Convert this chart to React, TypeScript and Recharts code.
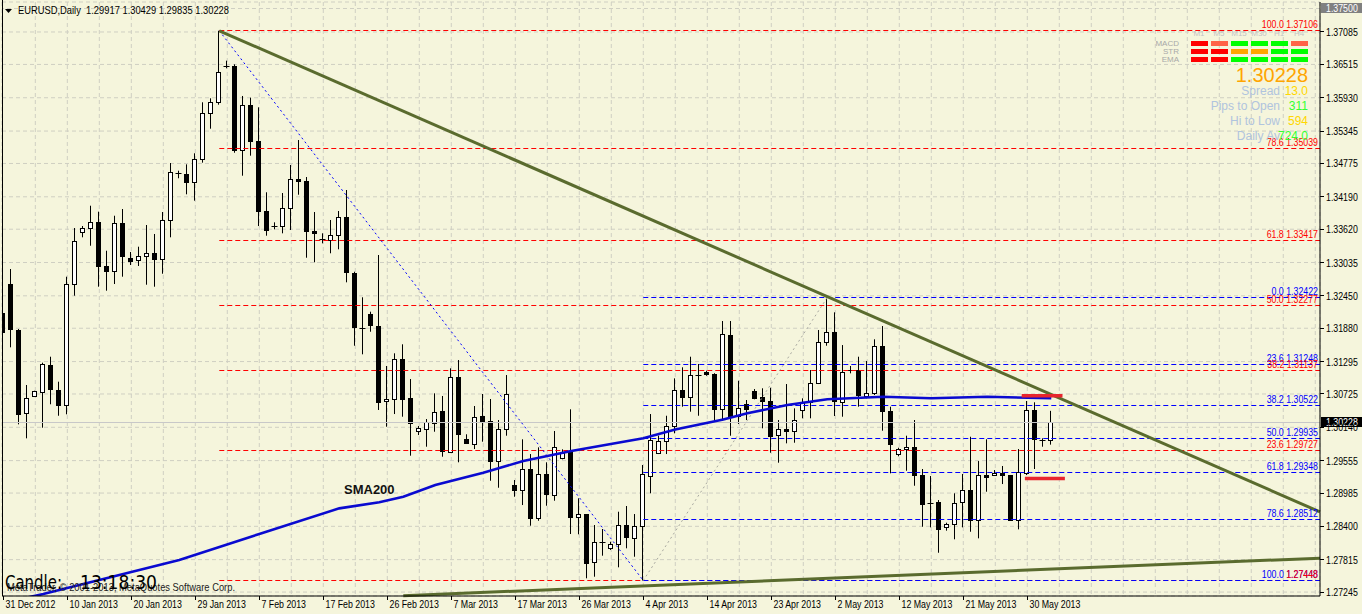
import React from 'react';
import {
  ComposedChart, Bar, Line, XAxis, YAxis, CartesianGrid, ReferenceLine, ReferenceDot,
} from 'recharts';

// EURUSD daily bars, bar 0 = 31 Dec 2012
const opens = [
  1.32153, 1.32657, 1.31849, 1.30386, 1.3069, 1.30755, 1.31234, 1.30795, 1.30526, 1.32652,
  1.33566, 1.33636, 1.33741, 1.32974, 1.3288, 1.33724, 1.33114, 1.33079, 1.33144, 1.33197,
  1.33091, 1.33777, 1.34602, 1.34585, 1.34444, 1.34848, 1.35657, 1.3585, 1.36488, 1.36488,
  1.35007, 1.35797, 1.35165, 1.33935, 1.33664, 1.33664, 1.33987, 1.34497, 1.34462, 1.33589,
  1.33443, 1.33418, 1.33506, 1.33829, 1.32845, 1.3189, 1.32125, 1.31919, 1.30589, 1.30632,
  1.3134, 1.30654, 1.30062, 1.30104, 1.30227, 1.30421, 1.29711, 1.31023, 1.29934, 1.29858,
  1.30338, 1.30244, 1.29535, 1.30104, 1.29121, 1.29033, 1.29402, 1.28541, 1.29314, 1.28962,
  1.29612, 1.29711, 1.28557, 1.28611, 1.27768, 1.28119, 1.28014, 1.28083, 1.28418, 1.28189,
  1.28393, 1.29289, 1.29693, 1.29899, 1.30162, 1.30795, 1.30667, 1.31064, 1.31111, 1.31076,
  1.30456, 1.31762, 1.30338, 1.30549, 1.30777, 1.30667, 1.30602, 1.29999, 1.30104, 1.30075,
  1.30444, 1.30579, 1.30913, 1.31633, 1.31809, 1.30589, 1.31134, 1.31139, 1.3069, 1.30748,
  1.31568, 1.30431, 1.29665, 1.29753, 1.29788, 1.29301, 1.28805, 1.28822, 1.28382, 1.28435,
  1.28815, 1.29033, 1.28511, 1.29301, 1.29301, 1.29342, 1.29301, 1.28511, 1.29342, 1.30444,
  1.29905, 1.29917,
];
const highs = [
  1.32318, 1.32921, 1.31867, 1.30883, 1.30782, 1.31275, 1.3138, 1.30941, 1.32786, 1.33641,
  1.33676, 1.34033, 1.33928, 1.33242, 1.33857, 1.33975, 1.3322, 1.33313, 1.33694, 1.33536,
  1.33922, 1.34783, 1.34648, 1.3476, 1.34954, 1.3585, 1.3592, 1.37106, 1.36581, 1.36517,
  1.35961, 1.35931, 1.35762, 1.34269, 1.33741, 1.34256, 1.34748, 1.35187, 1.34537, 1.33922,
  1.33548, 1.33782, 1.3394, 1.34309, 1.32873, 1.32424, 1.32171, 1.33167, 1.31217, 1.3144,
  1.31598, 1.30988, 1.30162, 1.30285, 1.30737, 1.3069, 1.31176, 1.31322, 1.30017, 1.30514,
  1.30725, 1.30637, 1.30268, 1.31058, 1.29214, 1.29929, 1.2967, 1.29788, 1.29525, 1.30075,
  1.29753, 1.30456, 1.28892, 1.28616, 1.28423, 1.28353, 1.28129, 1.28657, 1.28757, 1.28616,
  1.29477, 1.30373, 1.29992, 1.30343, 1.31, 1.31194, 1.3138, 1.31252, 1.31135, 1.3109,
  1.32007, 1.32007, 1.30958, 1.30619, 1.30812, 1.30825, 1.30835, 1.30268, 1.309, 1.30473,
  1.30649, 1.31146, 1.31849, 1.32422, 1.3216, 1.31585, 1.31217, 1.3138, 1.31305, 1.31686,
  1.31919, 1.30502, 1.29781, 1.29992, 1.30268, 1.29407, 1.29284, 1.28862, 1.28464, 1.2898,
  1.29319, 1.29974, 1.29547, 1.29929, 1.29389, 1.2946, 1.29301, 1.29758, 1.30602, 1.30579,
  1.29946, 1.30429,
];
const lows = [
  1.31703, 1.31545, 1.30192, 1.29946, 1.30678, 1.30133, 1.30544, 1.30343, 1.30368, 1.32452,
  1.33478, 1.3333, 1.3261, 1.3254, 1.32657, 1.32786, 1.32991, 1.32974, 1.32645, 1.3261,
  1.32838, 1.33478, 1.34515, 1.34233, 1.34121, 1.34789, 1.35386, 1.35808, 1.36447, 1.34964,
  1.3456, 1.34912, 1.33676, 1.33506, 1.33618, 1.33548, 1.33606, 1.34226, 1.33119, 1.33039,
  1.33372, 1.33197, 1.33267, 1.32687, 1.31573, 1.31422, 1.31819, 1.30444, 1.3015, 1.30373,
  1.30326, 1.29641, 1.30004, 1.29799, 1.30062, 1.29623, 1.297, 1.29525, 1.29846, 1.29758,
  1.29887, 1.29201, 1.29078, 1.29992, 1.2892, 1.28774, 1.28411, 1.28498, 1.28762, 1.2885,
  1.29577, 1.28265, 1.2826, 1.27487, 1.27515, 1.27884, 1.27984, 1.2768, 1.28014, 1.27866,
  1.27448, 1.2898, 1.2967, 1.2967, 1.30034, 1.30502, 1.30414, 1.30343, 1.31045, 1.30268,
  1.30268, 1.29992, 1.30198, 1.30268, 1.30632, 1.30122, 1.29693, 1.29518, 1.29858, 1.29869,
  1.30298, 1.30298, 1.309, 1.31573, 1.30338, 1.30326, 1.31088, 1.30502, 1.30649, 1.30707,
  1.3008, 1.29331, 1.2963, 1.29377, 1.29113, 1.28393, 1.28382, 1.27936, 1.28324, 1.28172,
  1.28382, 1.28305, 1.28189, 1.29008, 1.29284, 1.29143, 1.28499, 1.28347, 1.29301, 1.29407,
  1.29799, 1.29835,
];
const closes = [
  1.31819, 1.31861, 1.30368, 1.30649, 1.30772, 1.31252, 1.30807, 1.30526, 1.32652, 1.33413,
  1.33636, 1.33741, 1.32968, 1.3288, 1.33724, 1.33137, 1.33067, 1.33144, 1.33197, 1.33091,
  1.33777, 1.3462, 1.34612, 1.34444, 1.34848, 1.35657, 1.3585, 1.36377, 1.36478, 1.35012,
  1.35797, 1.35158, 1.33928, 1.33594, 1.33674, 1.33987, 1.34497, 1.34455, 1.33576, 1.33559,
  1.33418, 1.33513, 1.33829, 1.32863, 1.31897, 1.31885, 1.31925, 1.30589, 1.30632, 1.3134,
  1.30642, 1.3021, 1.30122, 1.30227, 1.30414, 1.29711, 1.31023, 1.30017, 1.29858, 1.30326,
  1.30238, 1.29535, 1.30104, 1.30719, 1.29033, 1.29402, 1.28541, 1.29314, 1.28962, 1.29799,
  1.29693, 1.28569, 1.28611, 1.2775, 1.28119, 1.28124, 1.28089, 1.28418, 1.28207, 1.28405,
  1.29314, 1.29916, 1.29899, 1.30162, 1.30795, 1.30667, 1.31058, 1.31058, 1.3107, 1.30456,
  1.31774, 1.30326, 1.30473, 1.30467, 1.30649, 1.30602, 1.29992, 1.30104, 1.30075, 1.30263,
  1.30579, 1.30913, 1.31633, 1.31809, 1.30589, 1.31116, 1.31139, 1.30707, 1.30748, 1.31568,
  1.30431, 1.29858, 1.29753, 1.29788, 1.29289, 1.28787, 1.28787, 1.28347, 1.28435, 1.28805,
  1.29033, 1.28511, 1.29301, 1.29272, 1.29342, 1.29313, 1.28511, 1.29359, 1.30444, 1.29934,
  1.29917, 1.30228,
];

const dateLabels = [
  '31 Dec 2012', '10 Jan 2013', '20 Jan 2013', '29 Jan 2013', '7 Feb 2013', '17 Feb 2013',
  '26 Feb 2013', '7 Mar 2013', '17 Mar 2013', '26 Mar 2013', '4 Apr 2013', '14 Apr 2013',
  '23 Apr 2013', '2 May 2013', '12 May 2013', '21 May 2013', '30 May 2013',
];

const priceTicks = [
  1.37085, 1.36515, 1.3593, 1.35345, 1.34775, 1.3419, 1.3362, 1.33035, 1.3245,
  1.3188, 1.31295, 1.30725, 1.3014, 1.29555, 1.28985, 1.284, 1.27815, 1.27245,
];

// SMA(200) read at a few bars
const smaBars = [0, 5, 22, 32, 42, 47, 50, 54, 60, 65, 71, 80, 84, 90, 93, 98, 103, 110, 116, 123, 131];
const smaValues = [
  1.2706, 1.2721, 1.27807, 1.28265, 1.28716, 1.28822, 1.2892, 1.29126, 1.29342, 1.29547,
  1.29723, 1.29946, 1.301, 1.30277, 1.30386, 1.30531, 1.30632, 1.30677, 1.30649, 1.30677, 1.30649,
];

// fibonacci on the big fall (red) and on the bounce (blue)
const redFibLevels = ['100.0', '78.6', '61.8', '50.0', '38.2', '23.6', '0.0'];
const redFibPrices = [1.37106, 1.35039, 1.33417, 1.32277, 1.31137, 1.29727, 1.27448];
const blueFibLevels = ['0.0', '23.6', '38.2', '50.0', '61.8', '78.6', '100.0'];
const blueFibPrices = [1.32422, 1.31248, 1.30522, 1.29935, 1.29348, 1.28512, 1.27448];
const redFibStart = 27;
const blueFibStart = 80;

const downTrend = [{ bar: 27, price: 1.37106 }, { bar: 164.59, price: 1.28653 }];
const upTrend = [{ bar: 50, price: 1.27181 }, { bar: 164.59, price: 1.27841 }];
const bigSwing = [{ bar: 27, price: 1.37106 }, { bar: 80, price: 1.27448 }];
const smallSwing = [{ bar: 80, price: 1.27448 }, { bar: 103, price: 1.32422 }];
const rangeMarks = [
  { from: 127.3, to: 132.4, price: 1.30693 },
  { from: 127.7, to: 132.7, price: 1.2924 },
];

const timeframes = ['M1', 'M5', 'M15', 'M30', 'H1', 'H4'];
const signalNames = ['MACD', 'STR', 'EMA'];
const signals = [
  ['down', 'weak', 'up', 'up', 'up', 'weak'],
  ['down', 'down', 'flat', 'flat', 'up', 'up'],
  ['down', 'down', 'up', 'up', 'up', 'up'],
];
const statNames = ['Spread', 'Pips to Open', 'Hi to Low', 'Daily Av'];
const statValues = ['13.0', '311', '594', '724.0'];
const bidPrice = 1.30228;
const topPrice = 1.375;

const X_MIN = -0.1625;
const X_MAX = 164.59;
const Y_MIN = 1.27176;
const Y_MAX = 1.37612;

const SANS = "'Liberation Sans', Arial, sans-serif";
const BG = '#F5F5DC';
const RED = '#FF0000';
const BLUE = '#0000FF';
const OLIVE = '#5a6b2e';

const signalColor: Record<string, string> = { down: '#FF0000', weak: '#FF6347', up: '#00FF00', flat: '#FFA500' };
const statColor = ['#FFD700', '#33FF33', '#FFD700', '#33FF33'];

const candles = opens.map((o, i) => ({ i, o, h: highs[i], l: lows[i], c: closes[i] }));
const smaData = smaBars.map((b, k) => ({ i: b, v: smaValues[k] }));
const dateTicks = dateLabels.map((_, k) => k * 8);
const gridBars = Array.from({ length: 42 }, (_, k) => k * 4);

// MT4 draws with a narrow Tahoma; squeeze Liberation Sans horizontally
const Narrow = ({ x, y, anchor = 'start', fill = '#000', size = 11, children }: any) => (
  <text transform={`translate(${x},${y}) scale(0.8,1)`} textAnchor={anchor} fontSize={size} fontFamily={SANS} fill={fill}>
    {children}
  </text>
);

const snap = (v: number) => Math.round(v - 0.5) + 0.5;
const crispLine = (p: any) => (
  <line {...p} x1={p.x1} x2={p.x2} y1={snap(p.y1)} y2={snap(p.y2)} />
);

const Candle = (props: any) => {
  const { x, y, width, height, payload } = props;
  const { o, h, l, c } = payload;
  const cx = Math.floor(x + width / 2) + 0.5;
  const py = (p: number) => y + ((h - p) / (h - l)) * height;
  const top = py(Math.max(o, c));
  const bot = py(Math.min(o, c));
  const bull = c >= o;
  return (
    <g>
      <line x1={cx} x2={cx} y1={y} y2={y + height} stroke="#000" strokeWidth={1} />
      {bot - top < 1.5 ? (
        <line x1={cx - 3} x2={cx + 3} y1={Math.round(top) + 0.5} y2={Math.round(top) + 0.5} stroke="#000" />
      ) : (
        <rect x={cx - 2} y={Math.round(top) + 0.5} width={4} height={Math.max(1, Math.round(bot - top))}
          fill={bull ? '#FFFFFF' : '#000000'} stroke="#000" strokeWidth={1} />
      )}
    </g>
  );
};

const PriceTick = ({ x, y, payload }: any) => (
  <g>
    <line x1={x} x2={x + 4} y1={snap(y)} y2={snap(y)} stroke="#000" />
    <Narrow x={x + 6} y={y + 4}>{payload.value.toFixed(5)}</Narrow>
  </g>
);

const DateTick = ({ x, y, payload }: any) => {
  const tx = Math.floor(x) + 0.5;
  return (
    <g>
      <line x1={tx} x2={tx} y1={y} y2={y + 4} stroke="#000" />
      <Narrow x={tx + 2} y={y + 12}>{dateLabels[Math.round(payload.value / 8)]}</Narrow>
    </g>
  );
};

const fibLabel = (text: string, color: string) => (p: any) => (
  <Narrow x={p.cx - 2} y={snap(p.cy) - 2.5} anchor="end" fill={color}>{text}</Narrow>
);

const priceBox = (value: number, fill: string, color: string) => (p: any) => (
  <g>
    <rect x={p.cx + 1} y={Math.round(p.cy) - 5} width={42} height={10} fill={fill} />
    <Narrow x={p.cx + 6} y={Math.round(p.cy) + 4} fill={color}>{value.toFixed(5)}</Narrow>
  </g>
);

export default function App() {
  const last = candles[candles.length - 1];
  const header = `EURUSD,Daily\u00a0\u00a0${last.o.toFixed(5)} ${last.h.toFixed(5)} ${last.l.toFixed(5)} ${last.c.toFixed(5)}`;
  return (
    <div style={{ position: 'absolute', left: 0, top: 0, width: 1362, height: 614, background: BG, overflow: 'hidden' }}>
      <ComposedChart width={1362} height={614} data={candles} margin={{ top: 2, right: 0, left: 2, bottom: 0 }}>
        <XAxis xAxisId="grid" type="number" dataKey="i" domain={[X_MIN, X_MAX]} allowDataOverflow ticks={gridBars} hide />
        <CartesianGrid xAxisId="grid" stroke="#cfcfc2" strokeDasharray="4 3" />
        <ReferenceLine y={topPrice} stroke="#cfcfc2" strokeDasharray="4 3" shape={crispLine} />
        <ReferenceLine y={bidPrice} stroke="#c8c8c8" shape={crispLine} />

        <Bar dataKey={(d: any) => [d.l, d.h]} barSize={5} shape={Candle} isAnimationActive={false} />

        {redFibPrices.map((p, k) => (
          <ReferenceLine key={'rf' + k} segment={[{ x: redFibStart, y: p }, { x: X_MAX, y: p }]}
            stroke={RED} strokeDasharray="5 3" ifOverflow="visible" shape={crispLine} />
        ))}
        {blueFibPrices.map((p, k) => (
          <ReferenceLine key={'bf' + k} segment={[{ x: blueFibStart, y: p }, { x: X_MAX, y: p }]}
            stroke={BLUE} strokeDasharray="5 3" ifOverflow="visible" shape={crispLine} />
        ))}
        <ReferenceLine segment={bigSwing.map((s) => ({ x: s.bar, y: s.price }))} stroke={BLUE} strokeDasharray="2 3" ifOverflow="visible" />
        <ReferenceLine segment={smallSwing.map((s) => ({ x: s.bar, y: s.price }))} stroke="#a8a8a0" strokeDasharray="2 3" ifOverflow="visible" />

        <Line data={smaData} dataKey="v" type="linear" stroke="#0a0ad0" strokeWidth={2.6} dot={false} activeDot={false} isAnimationActive={false} />

        <ReferenceLine segment={downTrend.map((s) => ({ x: s.bar, y: s.price }))} stroke={OLIVE} strokeWidth={3} ifOverflow="visible" />
        <ReferenceLine segment={upTrend.map((s) => ({ x: s.bar, y: s.price }))} stroke={OLIVE} strokeWidth={3} ifOverflow="visible" />
        {rangeMarks.map((m, k) => (
          <ReferenceLine key={'rm' + k} segment={[{ x: m.from, y: m.price }, { x: m.to, y: m.price }]}
            stroke="#e8262e" strokeWidth={3.5} ifOverflow="visible" />
        ))}

        {blueFibPrices.map((p, k) => (
          <ReferenceDot key={'bl' + k} x={X_MAX} y={p} r={0} ifOverflow="visible"
            shape={fibLabel(`${blueFibLevels[k]} ${p.toFixed(5)}`, BLUE)} />
        ))}
        {redFibPrices.map((p, k) => (
          <ReferenceDot key={'rl' + k} x={X_MAX} y={p} r={0} ifOverflow="visible"
            shape={fibLabel(blueFibPrices.includes(p) ? p.toFixed(5) : `${redFibLevels[k]} ${p.toFixed(5)}`, RED)} />
        ))}

        <XAxis type="number" dataKey="i" domain={[X_MIN, X_MAX]} allowDataOverflow ticks={dateTicks} interval={0}
          height={18} tickSize={0} tickMargin={0} tick={<DateTick />} axisLine={{ stroke: '#000' }} />
        <YAxis orientation="right" type="number" domain={[Y_MIN, Y_MAX]} allowDataOverflow ticks={priceTicks} interval={0}
          width={42} tickSize={0} tickMargin={0} tick={<PriceTick />} axisLine={{ stroke: '#000' }} />

        <ReferenceDot x={X_MAX} y={topPrice} r={0} ifOverflow="visible" shape={priceBox(topPrice, '#808080', '#ffffff')} />
        <ReferenceDot x={X_MAX} y={bidPrice} r={0} ifOverflow="visible" shape={priceBox(bidPrice, '#000000', '#ffffff')} />
      </ComposedChart>

      <svg width={1362} height={614} style={{ position: 'absolute', left: 0, top: 0, pointerEvents: 'none' }}>
        <line x1={2.5} x2={2.5} y1={0} y2={596} stroke="#000" />
        <polygon points="5,9 12,9 8.5,13" fill="#000" />
        <text x={18} y={14} fontSize={11} fontFamily={SANS} fill="#000" textLength={211} lengthAdjust="spacingAndGlyphs">{header}</text>

        <text x={344} y={494} fontSize={13} fontWeight="bold" fontFamily={SANS} fill="#111">SMA200</text>

        <text x={7} y={591} fontSize={11} fontFamily={SANS} fill="#222" textLength={228} lengthAdjust="spacingAndGlyphs">
          MetaTrader, © 2001-2013, MetaQuotes Software Corp.
        </text>
        <text x={5} y={589} fontSize={20} fontFamily="'DejaVu Sans', sans-serif" fill="#000" textLength={57} lengthAdjust="spacingAndGlyphs">Candle:</text>
        <text x={80} y={589} fontSize={20} fontFamily="'DejaVu Sans', sans-serif" fill="#000" textLength={77} lengthAdjust="spacingAndGlyphs">13:18:30</text>

        {timeframes.map((t, k) => (
          <text key={t} x={1199 + 20 * k} y={36} textAnchor="middle" fontSize={8} fontFamily={SANS} fill="#c4c4c4">{t}</text>
        ))}
        {signalNames.map((n, r) => (
          <g key={n}>
            <text x={1179} y={46 + 8 * r} textAnchor="end" fontSize={8} fontFamily={SANS} fill="#a8a8a8">{n}</text>
            {signals[r].map((s, k) => (
              <rect key={k} x={1191 + 20 * k} y={41 + 8 * r} width={17} height={5} fill={signalColor[s]} />
            ))}
          </g>
        ))}
        <text x={1308} y={82} textAnchor="end" fontSize={20} fontFamily={SANS} fill="#FFA500">{last.c.toFixed(5)}</text>
        {statNames.map((n, k) => (
          <g key={n}>
            <text x={1280} y={95 + 15 * k} textAnchor="end" fontSize={12} fontFamily={SANS} fill="#B0C4DE">{n}</text>
            <text x={1308} y={95 + 15 * k} textAnchor="end" fontSize={12} fontFamily={SANS} fill={statColor[k]}>{statValues[k]}</text>
          </g>
        ))}
      </svg>
    </div>
  );
}
